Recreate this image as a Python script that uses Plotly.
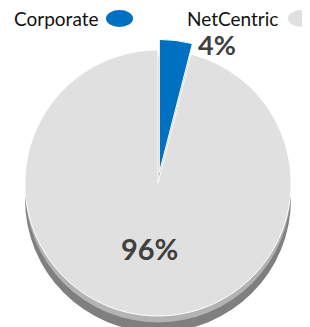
import plotly.graph_objects as go

# ---- data ----
labels = ["Corporate", "NetCentric"]
values = [4, 96]
colors = ["#0070C0", "#E0E0E0"]
pulls = [0.08, 0]

# ---- geometry (screen pixels; the page body adds an 8px offset) ----
W, H = 310, 327
OFF = 8
CX, CY, R = 158, 183, 133
DEPTH = 16
half = R * (1 + max(pulls))

def px_x(x):
    return (x - OFF) / W

def px_y(y):
    return 1 - (y - OFF) / H

fig = go.Figure()
fig.add_trace(go.Pie(
    labels=labels,
    values=values,
    sort=False,
    direction="clockwise",
    rotation=0,
    pull=pulls,
    marker=dict(colors=colors, line=dict(color="#FFFFFF", width=1)),
    textinfo="percent",
    texttemplate="%{percent:.0%}",
    textposition=["none", "inside"],
    insidetextorientation="horizontal",
    insidetextfont=dict(family="Lato", size=29, color="#404040", weight="bold"),
    showlegend=False,
    automargin=False,
    hoverinfo="label+percent",
    domain=dict(x=[px_x(CX - half), px_x(CX + half)],
                y=[max(0, px_y(CY + half)), px_y(CY - half)]),
))

shapes = [
    # side (depth) of the pie
    dict(type="circle", xref="paper", yref="paper", layer="below",
         x0=px_x(CX - R), x1=px_x(CX + R),
         y0=px_y(CY + R + DEPTH), y1=px_y(CY - R + DEPTH),
         fillcolor="#7F7F7F", line=dict(width=0)),
    dict(type="circle", xref="paper", yref="paper", layer="below",
         x0=px_x(CX - R), x1=px_x(CX + R),
         y0=px_y(CY + R + DEPTH * 0.4), y1=px_y(CY - R + DEPTH * 0.4),
         fillcolor="#B3B3B3", line=dict(width=0)),
]

# legend: label followed by a coloured ellipse
legend_pos = [(12, 106), (185, 288)]
annotations = []
for (tx, mx), lab, col in zip(legend_pos, labels, colors):
    annotations.append(dict(
        text=lab, x=px_x(tx), y=px_y(19), xref="paper", yref="paper",
        xanchor="left", yanchor="middle", showarrow=False,
        font=dict(family="Lato", size=19, color="#111111")))
    shapes.append(dict(
        type="circle", xref="paper", yref="paper",
        x0=px_x(mx), x1=px_x(mx + 27), y0=px_y(27), y1=px_y(10),
        fillcolor=col, line=dict(width=0)))

# small-slice percentage label, to the right of the pulled slice
pct_small = f"{round(values[0] / sum(values) * 100)}%"
annotations.append(dict(
    text=pct_small, x=px_x(196), y=px_y(44), xref="paper", yref="paper",
    xanchor="left", yanchor="middle", showarrow=False,
    font=dict(family="Lato", size=27, color="#404040", weight="bold")))

fig.update_layout(
    width=W, height=H,
    margin=dict(l=0, r=0, t=0, b=0, autoexpand=False),
    paper_bgcolor="white",
    plot_bgcolor="white",
    shapes=shapes,
    annotations=annotations,
)

fig.write_html("out.html")
